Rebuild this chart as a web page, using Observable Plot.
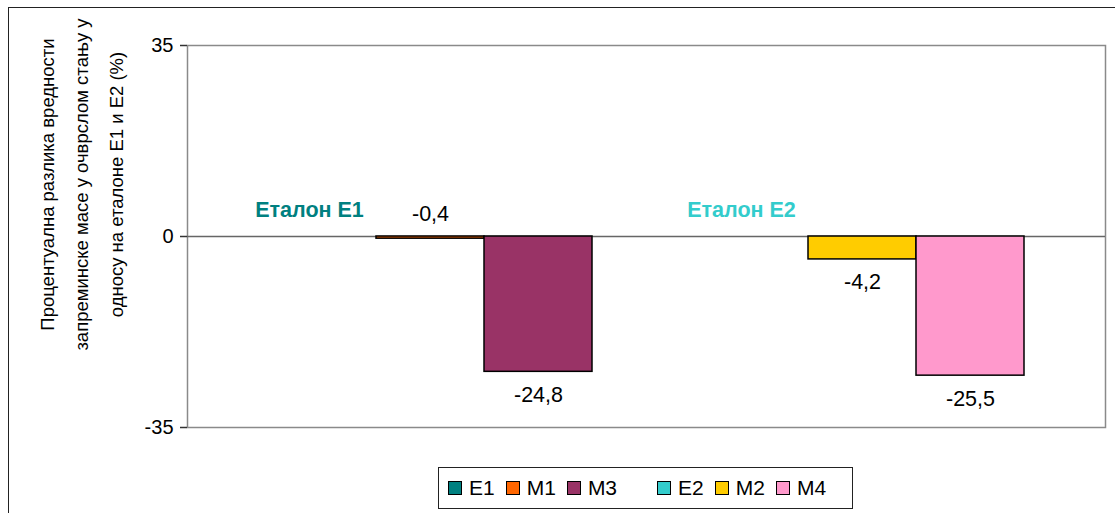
<!DOCTYPE html>
<html>
<head>
<meta charset="utf-8">
<script src="https://cdn.jsdelivr.net/npm/d3@7"></script>
<script src="https://cdn.jsdelivr.net/npm/@observablehq/plot@0.6"></script>
<style>
  html, body { margin: 0; padding: 0; background: #fff; overflow: hidden; width: 1115px; height: 513px; }
  #wrap { position: relative; width: 1115px; height: 513px; font-family: "Liberation Sans", Arial, sans-serif; }
  #outer { position: absolute; left: 8px; top: 7px; width: 1200px; height: 600px; border: 1.5px solid #222; box-sizing: border-box; }
  #chart { position: absolute; left: 0; top: 0; }
  #legend { position: absolute; left: 438px; top: 467px; width: 415px; height: 42px; box-sizing: border-box;
            border: 1px solid #222; display: flex; align-items: center; padding-left: 9px; gap: 11px;
            font-size: 21px; color: #000; }
  .item { display: flex; align-items: center; gap: 7px; }
  .sw { width: 14px; height: 14px; box-sizing: border-box; border: 1.5px solid #000; }
  .spacer { width: 18px; }
</style>
</head>
<body>
<div id="wrap">
  <div id="outer"></div>
  <div id="chart"></div>
  <div id="legend"></div>
</div>
<script>
// ---- data ----
const series = ["E1", "M1", "M3", "E2", "M2", "M4"];
const values = [0, -0.4, -24.8, 0, -4.2, -25.5];
const colors = ["#008080", "#FF6600", "#993366", "#33CCCC", "#FFCC00", "#FF99CC"];
const groupSeries = ["E1", "E2"];
const groupLabels = ["Еталон Е1", "Еталон Е2"];
const yTicks = [-35, 0, 35];
const yTitle = "Процентуална разлика вредности\nзапреминске масе у очврслом стању у\nодносу на еталоне Е1 и Е2 (%)";
const spacer = " ";

// ---- derived ----
const rows = series.map((s, i) => ({series: s, value: values[i], label: values[i] === 0 ? "" : String(values[i]).replace(".", ",")}));
const xDomain = [...series.slice(0, 3), spacer, ...series.slice(3)];
const groupRows = groupSeries.map((s, i) => ({series: s, label: groupLabels[i]}));

const font = "Liberation Sans, Arial, sans-serif";

const chart = Plot.plot({
  width: 1115,
  height: 460,
  marginLeft: 187,
  marginRight: 10,
  marginTop: 45,
  marginBottom: 33,
  style: {fontFamily: font, background: "transparent", color: "#000"},
  x: {domain: xDomain, paddingInner: 0, paddingOuter: 0.74, axis: null},
  y: {domain: [-35, 35], axis: null},
  color: {domain: series, range: colors},
  marks: [
    Plot.frame({stroke: "#8a8a8a", strokeWidth: 1.5}),
    Plot.ruleY([0], {stroke: "#666", strokeWidth: 1.5}),
    Plot.barY(rows, {x: "series", y: "value", fill: "series", stroke: "#000", strokeWidth: 1.5}),
    Plot.axisY({ticks: yTicks, tickFormat: d => String(d), tickSize: 7, tickPadding: 7, fontSize: 20, line: true, label: null, stroke: "#333", strokeWidth: 1.5}),
    Plot.text(rows.filter(d => d.label && Math.abs(d.value) < 1), {x: "series", y: "value", text: "label", dy: -25, fontSize: 21.5, fill: "#000"}),
    Plot.text(rows.filter(d => d.label && Math.abs(d.value) >= 1), {x: "series", y: "value", text: "label", dy: 23, fontSize: 21.5, fill: "#000"}),
    Plot.text(groupRows, {x: "series", y: () => 0, text: "label", fill: "series", dx: -13, dy: -26, fontSize: 21.5, fontWeight: "bold"}),
    Plot.text([yTitle], {text: d => d, frameAnchor: "left", rotate: -90, dx: -110, dy: -52, textAnchor: "middle", lineHeight: 1.85, fontSize: 18.5, fill: "#000"})
  ]
});
document.getElementById("chart").appendChild(chart);

// ---- legend ----
const legend = document.getElementById("legend");
series.forEach((s, i) => {
  if (i === 3) {
    const sp = document.createElement("div");
    sp.className = "spacer";
    legend.appendChild(sp);
  }
  const it = document.createElement("div");
  it.className = "item";
  const sw = document.createElement("div");
  sw.className = "sw";
  sw.style.background = colors[i];
  const tx = document.createElement("span");
  tx.textContent = s;
  it.appendChild(sw);
  it.appendChild(tx);
  legend.appendChild(it);
});
</script>
</body>
</html>
